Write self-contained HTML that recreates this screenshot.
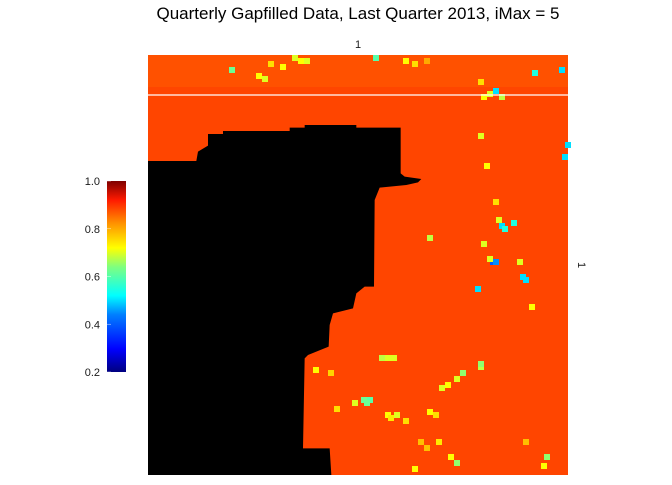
<!DOCTYPE html>
<html><head><meta charset="utf-8"><style>
body{margin:0;background:#fff;}
svg text{font-family:"Liberation Sans",sans-serif;}
</style></head><body>
<svg id="chart" width="672" height="480" viewBox="0 0 672 480">
<text x="358" y="19" font-size="17" text-anchor="middle" fill="#000">Quarterly Gapfilled Data, Last Quarter 2013, iMax = 5</text>
<text x="358" y="48" font-size="11" text-anchor="middle" fill="#1a1a1a">1</text>
<text x="578" y="265" font-size="11" text-anchor="middle" fill="#1a1a1a" transform="rotate(90 578 265)">1</text>
<g id="raster"></g>
<defs><linearGradient id="jet" x1="0" y1="1" x2="0" y2="0">
<stop offset="0" stop-color="#00007f"/><stop offset="0.12" stop-color="#0000ff"/>
<stop offset="0.3" stop-color="#007fff"/><stop offset="0.4" stop-color="#00ffff"/>
<stop offset="0.55" stop-color="#7fff7f"/><stop offset="0.65" stop-color="#ffff00"/>
<stop offset="0.78" stop-color="#ff9000"/><stop offset="0.9" stop-color="#ff1a00"/>
<stop offset="1" stop-color="#7f0000"/></linearGradient></defs>
<rect x="107" y="181" width="19" height="191" fill="url(#jet)"/>
<g id="cbticks"></g>
</svg>
<script>
const NS='http://www.w3.org/2000/svg';
const cbLabels=['0.2','0.4','0.6','0.8','1.0'];
const cbValues=[0.2,0.4,0.6,0.8,1.0];
const baseValue=0.885;
const bandValue=0.86;
// hotspots: [col,row,value] on 140x140 grid
const hotCols=[48,50,52,40,44,38,27,36,85,88,92,128,137,115,113,111,117,75,110,117,118,114,115,113,124,125,123,116,93,111,109,121,127,110,112,138,139,115,77,79,81,97,99,102,104,110,110,71,73,72,68,79,80,82,85,93,95,92,96,100,102,90,55,60,132,131,125,88,62];
const hotRows=[0,1,1,2,3,7,4,6,1,2,1,5,4,11,12,13,13,0,8,56,57,68,68,67,73,74,68,54,60,62,77,55,83,26,36,33,29,48,100,100,100,110,109,107,105,103,102,114,114,115,115,119,120,119,121,118,119,130,128,133,135,128,104,105,133,136,128,137,117];
const hotVals=[.7,.72,.7,.75,.72,.7,.62,.72,.72,.75,.8,.55,.5,.5,.7,.72,.68,.6,.75,.5,.55,.4,.45,.7,.5,.5,.7,.7,.68,.7,.5,.55,.72,.7,.72,.5,.5,.75,.68,.7,.7,.7,.72,.7,.65,.68,.65,.62,.6,.62,.7,.72,.74,.7,.75,.72,.75,.78,.74,.72,.65,.78,.72,.76,.65,.72,.78,.72,.75];
const X0=148,Y0=55,W=420,N=140,cs=W/N;
const vmin=0.2,vmax=1.0,cbTop=181,cbH=191;
function cbY(v){return cbTop+cbH*(1-(v-vmin)/(vmax-vmin));}
const stops=[[0,[0,0,127]],[0.12,[0,0,255]],[0.3,[0,127,255]],[0.4,[0,255,255]],[0.55,[127,255,127]],[0.65,[255,255,0]],[0.78,[255,144,0]],[0.9,[255,26,0]],[1,[127,0,0]]];
function color(v){let t=Math.max(0,Math.min(1,(v-vmin)/(vmax-vmin)));
 for(let i=1;i<stops.length;i++){if(t<=stops[i][0]){const a=stops[i-1],b=stops[i];const f=(t-a[0])/(b[0]-a[0]);
 return 'rgb('+a[1].map((c,j)=>Math.round(c+(b[1][j]-c)*f)).join(',')+')';}}return 'rgb(127,0,0)';}
const g=document.getElementById('raster');
function mk(tag,attrs){const e=document.createElementNS(NS,tag);for(const k in attrs)e.setAttribute(k,attrs[k]);return e;}
const base=mk('rect',{x:X0,y:Y0,width:W,height:W,fill:color(baseValue)});


g.appendChild(base);
const band=mk('rect',{x:X0,y:Y0,width:W,height:32,fill:color(bandValue),opacity:0.4});


g.appendChild(band);
for(let i=0;i<hotCols.length;i++){
 const r=mk('rect',{x:X0+hotCols[i]*cs,y:Y0+hotRows[i]*cs,width:cs*2,height:cs*2,fill:color(hotVals[i])});
 
 
 g.appendChild(r);
}
const mask=mk('polygon',{fill:'#000',transform:'translate(148,55) scale(0.33333)',points:'0,318 145,318 150,290 180,272 180,237 225,237 225,228 425,228 425,218 470,218 470,210 625,210 625,218 758,218 758,355 770,365 820,372 810,382 775,390 695,398 680,435 678,695 650,695 625,715 615,760 555,775 545,810 542,875 480,900 470,910 465,1180 545,1180 550,1260 0,1260'});


g.appendChild(mask);
const line=mk('line',{x1:X0,x2:X0+W,y1:95,y2:95,stroke:'#fff','stroke-width':1.3});


g.appendChild(line);
const tg=document.getElementById('cbticks');
cbValues.forEach((v,i)=>{
 const t=mk('text',{x:100,y:cbY(v)+4,'font-size':11,'text-anchor':'end',fill:'#1a1a1a'});
 t.textContent=cbLabels[i];
 
 
 tg.appendChild(t);
 const l=mk('line',{x1:107,x2:111,y1:cbY(v),y2:cbY(v),stroke:'#fff','stroke-width':0.6,opacity:0.7});
 
 
 tg.appendChild(l);
});
</script>
</body></html>
